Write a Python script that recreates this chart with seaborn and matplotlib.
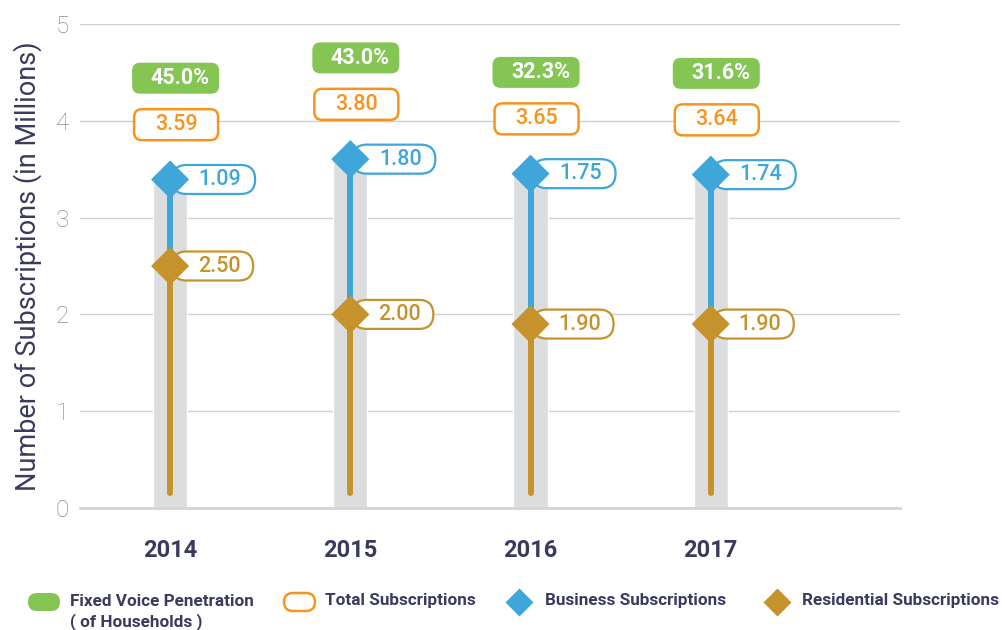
import numpy as np
import pandas as pd
import seaborn as sns
import matplotlib.pyplot as plt
from matplotlib.patches import FancyBboxPatch

# data
years = ['2014', '2015', '2016', '2017']
residential = [2.50, 2.00, 1.90, 1.90]
business = [1.09, 1.80, 1.75, 1.74]
total = [3.59, 3.80, 3.65, 3.64]
penetration = [45.0, 43.0, 32.3, 31.6]

GREEN = '#84c553'
ORANGE = '#f7941d'
BLUE = '#3ea6d8'
GOLD = '#c6922b'
BAR_GREY = '#dcdddf'
NAVY = '#3a3a5e'

sns.set_style('white')
plt.rcParams['font.family'] = ['Roboto', 'DejaVu Sans']

W, H = 1005, 630
fig = plt.figure(figsize=(W / 100, H / 100), dpi=100)
ax = fig.add_axes([80 / W, 1 - 508 / H, 820 / W, 484 / H])

pos = np.arange(len(years), dtype=float)
xmin, xmax, ymax = -0.5, 4.05, 5
px_x = 820 / (xmax - xmin)   # pixels per x unit
px_y = 484 / ymax            # pixels per y unit
aspect = px_x / px_y

# business diamond hangs just below the total mark
diam_half = 19 / px_y
bus_center = np.array(total) - diam_half

df = pd.DataFrame({'year': years, 'bar': bus_center})
sns.barplot(data=df, x='year', y='bar', color=BAR_GREY, width=0.19,
            saturation=1, ax=ax, zorder=1)

# stems
for i in range(len(years)):
    ax.plot([pos[i], pos[i]], [0.15, residential[i]], color=GOLD, lw=4.3,
            solid_capstyle='round', zorder=3)
    ax.plot([pos[i], pos[i]], [residential[i], bus_center[i]], color=BLUE,
            lw=4.3, zorder=3)

sns.scatterplot(x=pos, y=residential, marker='D', s=19.4 ** 2, color=GOLD,
                edgecolor='none', ax=ax, zorder=5)
sns.scatterplot(x=pos, y=bus_center, marker='D', s=19.4 ** 2, color=BLUE,
                edgecolor='none', ax=ax, zorder=5)


def box(ax, x0, yc, w_px, h_px, r_px, fc, ec, lw=1.6, z=2):
    w = w_px / px_x
    h = h_px / px_y
    r = r_px / px_x
    p = FancyBboxPatch((x0, yc - h / 2), w, h,
                       boxstyle=f'round,pad=0,rounding_size={r}',
                       mutation_aspect=aspect, fc=fc, ec=ec, lw=lw, zorder=z)
    ax.add_patch(p)


for i in range(len(years)):
    x = pos[i]
    # penetration label
    yc = total[i] + 0.85
    box(ax, x - 38 / px_x, yc, 87, 31, 8, GREEN, 'none')
    ax.text(x + 10 / px_x, yc, f'{penetration[i]:.1f}%', color='white',
            fontsize=15.5, fontweight='bold', ha='center', va='center', zorder=3)
    # total label
    yc = total[i] + 0.37
    box(ax, x - 36 / px_x, yc, 84, 31, 8, 'white', ORANGE, lw=1.8)
    ax.text(x + 6 / px_x, yc, f'{total[i]:.2f}', color=ORANGE,
            fontsize=15.5, fontweight='medium', ha='center', va='center', zorder=3)
    # business label
    box(ax, x + 2 / px_x, bus_center[i], 83, 29, 14.5, 'white', BLUE, lw=1.6)
    ax.text(x + 50 / px_x, bus_center[i], f'{business[i]:.2f}', color=BLUE,
            fontsize=15.5, fontweight='medium', ha='center', va='center', zorder=3)
    # residential label
    box(ax, x + 2 / px_x, residential[i], 81, 29, 14.5, 'white', GOLD, lw=1.6)
    ax.text(x + 49 / px_x, residential[i], f'{residential[i]:.2f}', color=GOLD,
            fontsize=15.5, fontweight='medium', ha='center', va='center', zorder=3)

ax.set_xlim(xmin, xmax)
ax.set_ylim(0, ymax)
ax.set_yticks(range(0, 6))
ax.set_yticklabels([str(v) for v in range(0, 6)], color='#8a8a8a', fontsize=17.5,
                   fontweight='light')
ax.yaxis.grid(True, color='#cfcfcf', lw=1)
ax.set_axisbelow(True)
ax.tick_params(axis='y', length=0, pad=8)

ax.set_xticks(pos)
ax.set_xticklabels(years, color=NAVY, fontsize=17, fontweight='bold')
ax.set_xticks([0.65, 1.53, 2.62, 3.59], minor=True)
ax.tick_params(axis='x', which='major', length=0, pad=22)
ax.tick_params(axis='x', which='minor', length=9, width=1, color='#d5d5d5')
ax.set_xlabel('')
ax.set_ylabel('Number of Subscriptions (in Millions)', color=NAVY, fontsize=19.5,
              labelpad=10)

sns.despine(ax=ax, left=True, top=True, right=True)
ax.spines['bottom'].set_color('#d5d5d5')
ax.spines['bottom'].set_linewidth(2)

# legend drawn in pixel space along the bottom
lax = fig.add_axes([0, 0, 1, 1])
lax.set_xlim(0, W)
lax.set_ylim(H, 0)
lax.axis('off')
lax.add_patch(FancyBboxPatch((28, 593), 32, 18, boxstyle='round,pad=0,rounding_size=9',
                             fc=GREEN, ec='none'))
lax.add_patch(FancyBboxPatch((284, 593), 31, 18, boxstyle='round,pad=0,rounding_size=9',
                             fc='white', ec=ORANGE, lw=1.8))
lax.plot(519, 602, marker='D', ms=14.3, color=BLUE, mec='none')
lax.plot(777, 602, marker='D', ms=14.3, color=GOLD, mec='none')
leg_kw = dict(color=NAVY, fontsize=12.3, fontweight='bold', va='center', ha='left')
lax.text(70, 601, 'Fixed Voice Penetration', **leg_kw)
lax.text(70, 622, '( of Households )', **leg_kw)
lax.text(325, 601, 'Total Subscriptions', **leg_kw)
lax.text(545, 601, 'Business Subscriptions', **leg_kw)
lax.text(802, 601, 'Residential Subscriptions', **leg_kw)

fig.savefig('out.png', dpi=100)
